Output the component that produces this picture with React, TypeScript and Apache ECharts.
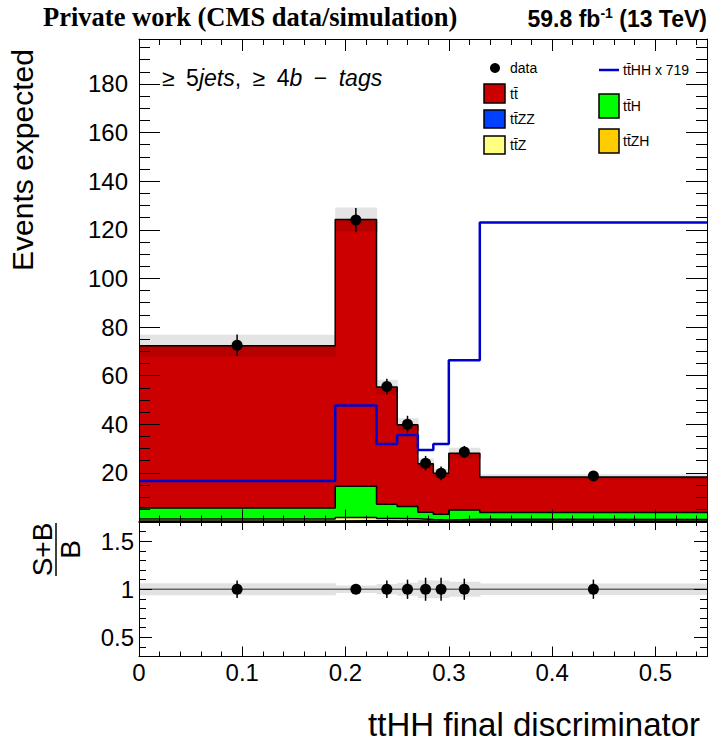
import React, { useEffect, useRef } from "react";
import * as echarts from "echarts";

// ---------------- data ----------------
const binEdges = [0, 0.19, 0.23, 0.25, 0.27, 0.285, 0.3, 0.33, 0.55];
const ttbarValues = [66.8, 109.8, 48.2, 33.6, 19.9, 16.9, 23.4, 14.6];
const ttHValues = [4.5, 12.8, 5.9, 5.1, 3.0, 2.3, 3.8, 2.9];
const ttZValues = [0.9, 1.4, 1.0, 0.9, 0.7, 0.5, 0.7, 0.7];
const ttZZValues = [0.05, 0.08, 0.05, 0.05, 0.04, 0.04, 0.05, 0.04];
const ttZHValues = [0.1, 0.2, 0.15, 0.15, 0.1, 0.1, 0.15, 0.1];
const ttHHx719Values = [16.7, 47.7, 31.9, 35.6, 29.4, 31.9, 66.3, 123.0];
const dataValues = [72.5, 124.0, 55.5, 40.0, 24.0, 19.8, 28.6, 18.7];
const dataErrors = [4.4, 5.0, 3.2, 3.5, 3.0, 2.8, 2.5, 1.5];
const mcUncertainty = [4.5, 4.9, 3.0, 2.7, 2.2, 1.8, 2.2, 1.1];
const ratioValues = [1.0, 1.0, 1.0, 1.0, 1.0, 1.0, 1.0, 1.0];
const ratioErrors = [0.09, 0.05, 0.09, 0.1, 0.12, 0.12, 0.11, 0.1];
const xTickLabels = [0, 0.1, 0.2, 0.3, 0.4, 0.5];
const mainYTickLabels = [20, 40, 60, 80, 100, 120, 140, 160, 180];
const ratioYTickLabels = [0.5, 1, 1.5];

// ---------------- helpers ----------------
const F = "'Liberation Sans', Arial, Helvetica, sans-serif";
const RED = "#cc0000";
const GREEN = "#00ff00";
const YELLOW = "#ffff80";
const BLUE_ZZ = "#0040ff";
const ORANGE = "#ffcc00";
const SIG = "#0000cc";
const TT = "tt\u0304";
const SP = "\u2002";

const centers = binEdges.slice(0, -1).map((e, i) => (e + binEdges[i + 1]) / 2);
const cumulate = (...arrs: number[][]) =>
  arrs[0].map((_, i) => arrs.reduce((s, a) => s + a[i], 0));
const lvl1 = cumulate(ttZHValues);
const lvl2 = cumulate(ttZHValues, ttZZValues);
const lvl3 = cumulate(ttZHValues, ttZZValues, ttZValues);
const lvl4 = cumulate(ttZHValues, ttZZValues, ttZValues, ttHValues);
const total = cumulate(ttZHValues, ttZZValues, ttZValues, ttHValues, ttbarValues);
const step = (vals: number[]) =>
  vals.flatMap((v, i) => [
    [binEdges[i], v],
    [binEdges[i + 1], v],
  ]);

const areaSeries = (vals: number[], color: string, z: number) => ({
  type: "line",
  xAxisIndex: 0,
  yAxisIndex: 0,
  data: step(vals),
  symbol: "none",
  showSymbol: false,
  lineStyle: { width: 0, opacity: 0 },
  areaStyle: { color, opacity: 1 },
  z,
  silent: true,
});
const outlineSeries = (vals: number[], z: number) => ({
  type: "line",
  xAxisIndex: 0,
  yAxisIndex: 0,
  data: step(vals),
  symbol: "none",
  showSymbol: false,
  lineStyle: { width: 1.5, color: "#000" },
  z,
  silent: true,
});

const rectRender = (colors: string[]) => (params: any, api: any) => {
  const a = api.coord([api.value(0), api.value(3)]);
  const b = api.coord([api.value(1), api.value(2)]);
  return {
    type: "rect",
    shape: { x: a[0], y: a[1], width: b[0] - a[0] + 0.6, height: b[1] - a[1] },
    style: { fill: colors[api.value(4)] },
  };
};
const errRender = (params: any, api: any) => {
  const a = api.coord([api.value(0), api.value(1) - api.value(2)]);
  const b = api.coord([api.value(0), api.value(1) + api.value(2)]);
  return {
    type: "line",
    shape: { x1: a[0], y1: a[1], x2: b[0], y2: b[1] },
    style: { stroke: "#000", lineWidth: 1.5 },
  };
};

const bandItems: number[][] = [];
total.forEach((t, i) => {
  bandItems.push([binEdges[i], binEdges[i + 1], t, t + mcUncertainty[i], 0]);
  bandItems.push([binEdges[i], binEdges[i + 1], t - mcUncertainty[i], t, 1]);
});
const ratioBandItems = total.map((t, i) => {
  const r = mcUncertainty[i] / t;
  return [binEdges[i], binEdges[i + 1], 1 - r, 1 + r, 0];
});

const xLabelFmt = (v: number) => {
  const hit = xTickLabels.find((t) => Math.abs(t - v) < 1e-6);
  return hit === undefined ? "" : String(hit);
};
const yLabelFmt = (v: number) => {
  const hit = mainYTickLabels.find((t) => Math.abs(t - v) < 1e-6);
  return hit === undefined ? "" : String(hit);
};
const rLabelFmt = (v: number) => {
  const hit = ratioYTickLabels.find((t) => Math.abs(t - v) < 1e-6);
  return hit === undefined ? "" : String(hit);
};

const labelStyle = { fontFamily: F, fontSize: 24, color: "#000" };
const blackLine = { color: "#000", width: 1 };

const xAx = (grid: number, position: string, interval: number, len: number, frame: boolean, labels = false) => ({
  type: "value",
  gridIndex: grid,
  position,
  min: 0,
  max: 0.55,
  interval,
  z: 50,
  axisLine: { show: frame, onZero: false, lineStyle: blackLine },
  axisTick: { show: true, inside: true, length: len, lineStyle: blackLine },
  axisLabel: labels
    ? { show: true, ...labelStyle, margin: 4, formatter: xLabelFmt, showMaxLabel: false }
    : { show: false },
  splitLine: { show: false },
  minorTick: { show: false },
});
const yMain = (position: string, interval: number, len: number, frame: boolean, labels = false) => ({
  type: "value",
  gridIndex: 0,
  position,
  min: 0,
  max: 198.5,
  interval,
  z: 50,
  axisLine: { show: frame, onZero: false, lineStyle: blackLine },
  axisTick: { show: true, inside: true, length: len, lineStyle: blackLine },
  axisLabel: labels ? { show: true, ...labelStyle, margin: 11, formatter: yLabelFmt } : { show: false },
  splitLine: { show: false },
});
const yRatio = (position: string, major: boolean, len: number, labels = false) => ({
  type: "value",
  gridIndex: 1,
  position,
  min: 0.3,
  max: 1.7,
  interval: 0.1,
  z: 50,
  axisLine: { show: major, onZero: false, lineStyle: blackLine },
  axisTick: major
    ? { show: true, inside: true, length: len, lineStyle: blackLine, customValues: ratioYTickLabels }
    : { show: true, inside: true, length: len, lineStyle: blackLine },
  axisLabel: labels
    ? { show: true, ...labelStyle, margin: 5, formatter: rLabelFmt, customValues: ratioYTickLabels }
    : { show: false },
  splitLine: { show: false },
});

const txt = (text: string, x: number, y: number, extra: any = {}, el: any = {}) => ({
  type: "text",
  x,
  y,
  z: 100,
  ...el,
  style: {
    text,
    x: 0,
    y: 0,
    fill: "#000",
    fontFamily: F,
    align: "left",
    textAlign: "left",
    verticalAlign: "middle",
    textVerticalAlign: "middle",
    ...extra,
  },
});
const box = (x: number, y: number, w: number, h: number, fill: string) => ({
  type: "rect",
  z: 100,
  shape: { x, y, width: w, height: h },
  style: { fill, stroke: "#000", lineWidth: 1.5 },
});

const option: any = {
  animation: false,
  backgroundColor: "#fff",
  grid: [
    { left: 139, top: 39, width: 568, height: 482.5, containLabel: false, outerBoundsMode: "none" },
    { left: 139, top: 522, width: 568, height: 134.5, containLabel: false, outerBoundsMode: "none" },
  ],
  xAxis: [
    xAx(0, "bottom", 0.1, 12, true),
    xAx(0, "bottom", 0.02, 6, false),
    xAx(0, "top", 0.1, 12, true),
    xAx(0, "top", 0.02, 6, false),
    xAx(1, "bottom", 0.1, 10, true, true),
    xAx(1, "bottom", 0.02, 5, false),
    xAx(1, "top", 0.1, 8, true),
    xAx(1, "top", 0.02, 4, false),
  ],
  yAxis: [
    yMain("left", 20, 21, true, true),
    yMain("left", 5, 11, false),
    yMain("right", 20, 21, true),
    yMain("right", 5, 11, false),
    yRatio("left", true, 13, true),
    yRatio("left", false, 7),
    yRatio("right", true, 13),
    yRatio("right", false, 7),
  ],
  series: [
    areaSeries(total, RED, 1),
    areaSeries(lvl4, GREEN, 2),
    areaSeries(lvl3, YELLOW, 3),
    areaSeries(lvl2, BLUE_ZZ, 4),
    areaSeries(lvl1, ORANGE, 4.5),
    {
      type: "custom",
      xAxisIndex: 0,
      yAxisIndex: 0,
      z: 5,
      silent: true,
      data: bandItems,
      encode: { x: [0, 1], y: [2, 3] },
      renderItem: rectRender(["#e4e4e4", "#b60000"]),
    },
    outlineSeries(lvl1, 9),
    outlineSeries(lvl2, 9),
    outlineSeries(lvl3, 9),
    outlineSeries(lvl4, 9),
    outlineSeries(total, 9),
    {
      type: "line",
      xAxisIndex: 0,
      yAxisIndex: 0,
      data: step(ttHHx719Values),
      symbol: "none",
      showSymbol: false,
      lineStyle: { width: 2.5, color: SIG },
      z: 11,
      silent: true,
    },
    {
      type: "custom",
      xAxisIndex: 0,
      yAxisIndex: 0,
      z: 12,
      silent: true,
      data: centers.map((c, i) => [c, dataValues[i], dataErrors[i]]),
      encode: { x: 0, y: 1 },
      renderItem: errRender,
    },
    {
      type: "scatter",
      xAxisIndex: 0,
      yAxisIndex: 0,
      z: 13,
      silent: true,
      symbolSize: 11,
      itemStyle: { color: "#000", opacity: 1 },
      data: centers.map((c, i) => [c, dataValues[i]]),
    },
    // ratio panel
    {
      type: "custom",
      xAxisIndex: 4,
      yAxisIndex: 4,
      z: 5,
      silent: true,
      data: ratioBandItems,
      encode: { x: [0, 1], y: [2, 3] },
      renderItem: rectRender(["#e2e2e2"]),
    },
    {
      type: "line",
      xAxisIndex: 4,
      yAxisIndex: 4,
      data: [
        [binEdges[0], 1],
        [binEdges[binEdges.length - 1], 1],
      ],
      symbol: "none",
      showSymbol: false,
      lineStyle: { width: 1.5, color: "#666" },
      z: 8,
      silent: true,
    },
    {
      type: "custom",
      xAxisIndex: 4,
      yAxisIndex: 4,
      z: 12,
      silent: true,
      data: centers.map((c, i) => [c, ratioValues[i], ratioErrors[i]]),
      encode: { x: 0, y: 1 },
      renderItem: errRender,
    },
    {
      type: "scatter",
      xAxisIndex: 4,
      yAxisIndex: 4,
      z: 13,
      silent: true,
      symbolSize: 11,
      itemStyle: { color: "#000", opacity: 1 },
      data: centers.map((c, i) => [c, ratioValues[i]]),
    },
  ],
  graphic: [
    txt("Private work (CMS data/simulation)", 43, 16.5, {
      fontFamily: "'Liberation Serif', 'Times New Roman', serif",
      fontWeight: "bold",
      fontSize: 26.5,
    }),
    txt("{a|59.8 fb}{s|-1}{a| (13 TeV)}", 707, 18.5, {
      align: "right",
      textAlign: "right",
      rich: {
        a: { fontFamily: F, fontWeight: "bold", fontSize: 23, lineHeight: 26, fill: "#000" },
        s: { fontFamily: F, fontWeight: "bold", fontSize: 14, lineHeight: 14, verticalAlign: "top", fill: "#000" },
      },
    }),
    txt(`{n|\u2265${SP}5}{i|jets}{n|,${SP}\u2265${SP}4}{i|b}{n|${SP}\u2212${SP}}{i|tags}`, 162, 78, {
      rich: {
        n: { fontFamily: F, fontSize: 23, fill: "#000" },
        i: { fontFamily: F, fontSize: 23, fontStyle: "italic", fill: "#000" },
      },
    }),
    // axis titles
    txt("Events expected", 22.6, 160, { fontSize: 30, align: "center", textAlign: "center" }, { rotation: Math.PI / 2 }),
    txt("ttHH final discriminator", 700, 724, { fontSize: 33, align: "right", textAlign: "right" }),
    txt("S+B", 42.3, 549.5, { fontSize: 28, align: "center", textAlign: "center" }, { rotation: Math.PI / 2 }),
    txt("B", 70.3, 549.5, { fontSize: 28, align: "center", textAlign: "center" }, { rotation: Math.PI / 2 }),
    { type: "line", z: 100, shape: { x1: 56, y1: 523, x2: 56, y2: 576 }, style: { stroke: "#000", lineWidth: 1.5 } },
    // legend column 1
    { type: "circle", z: 100, shape: { cx: 495, cy: 68, r: 5 }, style: { fill: "#000" } },
    txt("data", 510, 68, { fontSize: 14 }),
    box(484, 84, 21, 19, RED),
    txt(TT, 510, 94, { fontSize: 14 }),
    box(484, 110, 21, 18, BLUE_ZZ),
    txt(TT + "ZZ", 510, 119, { fontSize: 14 }),
    box(484, 136, 21, 18, YELLOW),
    txt(TT + "Z", 510, 145, { fontSize: 14 }),
    // legend column 2
    { type: "line", z: 100, shape: { x1: 599, y1: 70, x2: 619, y2: 70 }, style: { stroke: SIG, lineWidth: 2.5 } },
    txt(TT + "HH x 719", 623, 70, { fontSize: 14 }),
    box(599, 94, 20, 24, GREEN),
    txt(TT + "H", 623, 106, { fontSize: 14 }),
    box(599, 129, 20, 24, ORANGE),
    txt(TT + "ZH", 623, 141, { fontSize: 14 }),
  ],
};

export default function App() {
  const ref = useRef<HTMLDivElement>(null);
  useEffect(() => {
    if (!ref.current) return;
    const chart = echarts.init(ref.current, null, { renderer: "svg" });
    chart.setOption(option);
    return () => chart.dispose();
  }, []);
  return (
    <div
      ref={ref}
      style={{ position: "absolute", left: 0, top: 0, width: 710, height: 742, background: "#fff" }}
    />
  );
}
